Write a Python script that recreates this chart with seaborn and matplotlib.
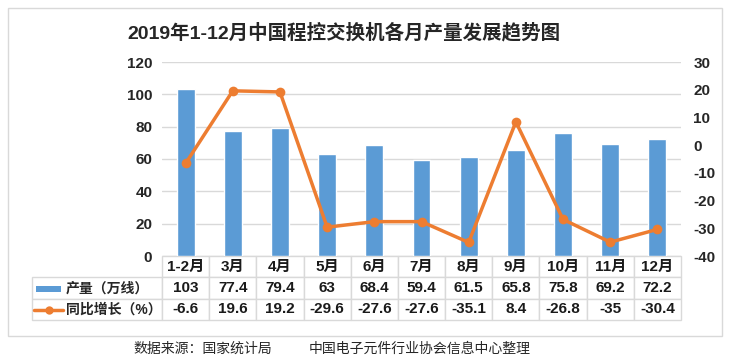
import numpy as np
import pandas as pd
import matplotlib
matplotlib.use('Agg')
import matplotlib.pyplot as plt
import seaborn as sns
from matplotlib.patches import Rectangle
from matplotlib.lines import Line2D

months = ['1-2月', '3月', '4月', '5月', '6月', '7月', '8月', '9月', '10月', '11月', '12月']
output = [103, 77.4, 79.4, 63, 68.4, 59.4, 61.5, 65.8, 75.8, 69.2, 72.2]
growth = [-6.6, 19.6, 19.2, -29.6, -27.6, -27.6, -35.1, 8.4, -26.8, -35, -30.4]
output_labels = ['103', '77.4', '79.4', '63', '68.4', '59.4', '61.5', '65.8', '75.8', '69.2', '72.2']
growth_labels = ['-6.6', '19.6', '19.2', '-29.6', '-27.6', '-27.6', '-35.1', '8.4', '-26.8', '-35', '-30.4']

BLUE = '#5B9BD5'
ORANGE = '#ED7D31'
GRID = '#D9D9D9'

sns.set_theme(style='white')
plt.rcParams['font.family'] = ['Liberation Sans', 'Noto Sans CJK SC', 'DejaVu Sans']
plt.rcParams['axes.unicode_minus'] = False

df = pd.DataFrame({'month': months, 'output': output, 'growth': growth, 'idx': np.arange(len(months))})

W, H = 734, 362
fig = plt.figure(figsize=(W / 100, H / 100), dpi=100)
ax = fig.add_axes([162 / W, 1 - 256 / H, (681 - 162) / W, (256 - 62) / H])

# outer frame
fig.patches.append(Rectangle((8 / W, 1 - 336 / H), (722 - 8) / W, (336 - 8) / H,
                             transform=fig.transFigure, fill=False, edgecolor=GRID, lw=1))

sns.barplot(data=df, x='month', y='output', color=BLUE, width=0.38, saturation=1, ax=ax, zorder=2)
ax.set_ylim(0, 120)
ax.set_yticks(range(0, 121, 20))
ax.yaxis.grid(True, color=GRID, lw=1, zorder=0)
ax.set_axisbelow(True)
ax.set_xlabel('')
ax.set_ylabel('')
ax.set_xticklabels([])
ax.tick_params(axis='both', length=0, labelsize=11, pad=7)
for lab in ax.get_yticklabels():
    lab.set_fontweight('bold')
for s in ax.spines.values():
    s.set_visible(False)

ax2 = ax.twinx()
sns.lineplot(data=df, x='idx', y='growth', color=ORANGE, lw=2.5, marker='o', markersize=7,
             markeredgewidth=0, ax=ax2, zorder=3)
ax2.set_ylim(-40, 30)
ax2.set_yticks(range(-40, 31, 10))
ax2.set_xlim(-0.5, len(months) - 0.5)
ax2.set_ylabel('')
ax2.tick_params(axis='y', length=0, labelsize=11, pad=9)
for lab in ax2.get_yticklabels():
    lab.set_fontweight('bold')
for s in ax2.spines.values():
    s.set_visible(False)

# data table under the chart
cells = [[''] + months, [''] + output_labels, [''] + growth_labels]
tw = (681 - 32) / 519.0
first = 130 / 649.0
others = (1 - first) / len(months)
tbl = ax.table(cellText=cells, cellLoc='center', colWidths=[first] + [others] * len(months),
               bbox=[(32 - 162) / 519.0, -(320 - 256) / 194.0, tw, (320 - 256) / 194.0])
tbl.auto_set_font_size(False)
for (r, c), cell in tbl.get_celld().items():
    cell.set_edgecolor(GRID)
    cell.set_linewidth(1)
    cell.get_text().set_fontsize(11)
    cell.get_text().set_fontweight('bold')
    cell.get_text().set_color('#1a1a1a')
tbl[0, 0].visible_edges = ''

# legend keys inside the table
fig.patches.append(Rectangle((36 / W, 1 - 292 / H), 25 / W, 6 / H, transform=fig.transFigure,
                             facecolor=BLUE, edgecolor='none'))
fig.lines.append(Line2D([34 / W, 63 / W], [1 - 310 / H, 1 - 310 / H], transform=fig.transFigure,
                        color=ORANGE, lw=2.5))
fig.lines.append(Line2D([48.5 / W], [1 - 310 / H], transform=fig.transFigure, color=ORANGE,
                        marker='o', markersize=6, markeredgewidth=0))
fig.text(66 / W, 1 - 289 / H, '产量（万线）', fontsize=10, fontweight='bold', va='center', ha='left')
fig.text(66 / W, 1 - 310 / H, '同比增长（%）', fontsize=10, fontweight='bold', va='center', ha='left')

fig.text(344 / W, 1 - 33 / H, '2019年1-12月中国程控交换机各月产量发展趋势图', fontsize=14,
         fontweight='bold', ha='center', va='center')
fig.text(133 / W, 1 - 349 / H, '数据来源：国家统计局', fontsize=10, ha='left', va='center')
fig.text(309 / W, 1 - 349 / H, '中国电子元件行业协会信息中心整理', fontsize=10, ha='left', va='center')

fig.savefig('out.png', dpi=100, facecolor='white')
